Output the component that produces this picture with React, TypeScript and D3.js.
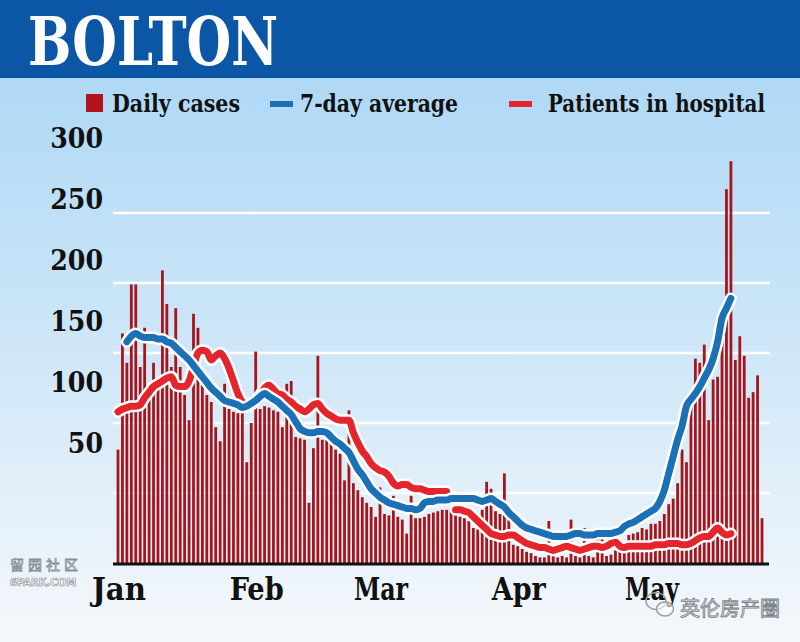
import { useRef, useEffect } from 'react'
import * as d3 from 'd3'

// Daily cases from 1 Jan 2021, one value per day
const dailyCases = [
  81, 164, 143, 199, 199, 140, 168, 125, 143, 124, 209, 185, 140, 182, 140, 120, 102, 178, 168, 128,
  120, 115, 97, 87, 128, 110, 108, 107, 110, 72, 100, 151, 110, 112, 111, 109, 108, 97, 128, 130,
  90, 89, 88, 43, 82, 148, 88, 88, 85, 81, 78, 59, 109, 57, 52, 47, 43, 40, 33, 54,
  35, 34, 48, 33, 31, 21, 48, 32, 32, 33, 35, 36, 37, 38, 38, 39, 37, 33, 32, 30,
  25, 24, 38, 58, 53, 37, 35, 64, 36, 13, 12, 10, 8, 7, 5, 4, 4, 30, 5, 4,
  5, 4, 31, 5, 4, 25, 5, 4, 22, 22, 5, 6, 9, 10, 13, 20, 21, 22, 25, 24,
  28, 28, 30, 35, 42, 46, 57, 81, 72, 118, 146, 143, 156, 102, 131, 133, 180, 267, 287, 145,
  162, 148, 118, 122, 134, 32,
]

// 7-day average (null where not drawn)
const sevenDayAvg = [
  null, null, 158, 162, 164, 162, 161, 161, 161, 160, 160, 158, 157, 154, 151, 148, 145, 141, 137, 133,
  129, 125, 122, 119, 116, 115, 114, 113, 111, 112, 114, 116, 119, 121, 119, 117, 115, 112, 109, 106,
  101, 96, 94, 93, 93, 94, 94, 93, 90, 87, 85, 82, 79, 73, 67, 63, 58, 53, 50, 47,
  45, 43, 42, 41, 40, 39, 39, 38, 39, 43, 44, 44, 45, 45, 45, 46, 46, 46, 46, 46,
  46, 45, 44, 45, 46, 44, 42, 40, 36, 33, 30, 27, 25, 24, 23, 22, 21, 20, 19, 19,
  19, 19, 20, 21, 21, 20, 20, 20, 21, 21, 21, 21, 22, 23, 26, 28, 29, 31, 33, 35,
  37, 39, 44, 52, 64, 76, 88, 98, 112, 117, 121, 126, 132, 138, 146, 158, 175, 182, 189,
]

// Patients in hospital (gap where the series breaks in March)
const hospital = [
  108, 110, 111, 112, 112, 113, 118, 122, 126, 128, 130, 132, 133, 127, 126, 126, 130, 140, 150, 152,
  151, 145, 148, 150, 146, 139, 130, 121, 115, 112, 113, 116, 120, 125, 127, 124, 121, 120, 117, 115,
  112, 110, 108, 110, 113, 114, 110, 107, 105, 103, 102, 102, 102, 93, 86, 80, 76, 71, 68, 66,
  65, 62, 57, 55, 56, 56, 54, 53, 53, 52, 51, 51, 51, 51, 51, null, 38, 38, 37, 36,
  33, 30, 27, 24, 21, 20, 19, 19, 20, 20, 18, 16, 14, 13, 12, 11, 11, 10, 9, 10,
  11, 12, 11, 10, 9, 10, 11, 12, 12, 11, 12, 14, 15, 12, 11, 12, 12, 12, 12, 12,
  12, 13, 13, 13, 14, 14, 14, 13, 13, 14, 16, 18, 19, 19, 22, 25, 22, 20, 21,
]

const yTicks = [50, 100, 150, 200, 250, 300]
const gridValues = [50, 100, 150, 200, 250]
const monthLabels = ['Jan', 'Feb', 'Mar', 'Apr', 'May']
const legendItems = [
  { label: 'Daily cases', kind: 'square', color: '#b0141c' },
  { label: '7-day average', kind: 'line', color: '#1c70b6' },
  { label: 'Patients in hospital', kind: 'line', color: '#e4252c' },
]

const START = new Date(2021, 0, 1)
const SLAB = '"DejaVu Serif Condensed", "DejaVu Serif", serif'

export default function App() {
  const svgRef = useRef<SVGSVGElement>(null)

  useEffect(() => {
    document.body.style.margin = '0'
    const width = 800
    const height = 642
    const svg = d3.select(svgRef.current)
    svg.selectAll('*').remove()
    svg.attr('width', width).attr('height', height)

    // Scales
    const x = d3.scaleLinear().domain([0, dailyCases.length - 1]).range([118, 762])
    const y = d3.scaleLinear().domain([0, 300]).range([563, 143])
    // the printed tick labels sit on their own spacing in the original graphic
    const labelY = d3.scaleLinear().domain([50, 300]).range([442, 137])

    // Background
    const defs = svg.append('defs')
    const bg = defs.append('linearGradient')
      .attr('id', 'sky').attr('x1', 0).attr('y1', 0).attr('x2', 0).attr('y2', 1)
    bg.append('stop').attr('offset', '0%').attr('stop-color', '#a6d4f5')
    bg.append('stop').attr('offset', '55%').attr('stop-color', '#cfe7f8')
    bg.append('stop').attr('offset', '100%').attr('stop-color', '#f5f8fb')
    svg.append('rect').attr('width', width).attr('height', height).attr('fill', 'url(#sky)')

    // Title band
    svg.append('rect').attr('width', width).attr('height', 78).attr('fill', '#0b56a5')
    svg.append('text')
      .attr('x', 28).attr('y', 65)
      .attr('font-family', SLAB).attr('font-weight', 'bold').attr('font-size', 68)
      .attr('fill', '#fff')
      .attr('textLength', 250).attr('lengthAdjust', 'spacingAndGlyphs')
      .text('BOLTON')

    // Legend
    const legendX = [86, 270, 509]
    const legendTextX = [112, 300, 548]
    const legendLen = [128, 158, 217]
    legendItems.forEach((item, i) => {
      if (item.kind === 'square') {
        svg.append('rect').attr('x', legendX[i]).attr('y', 94).attr('width', 17).attr('height', 18)
          .attr('fill', item.color)
      } else {
        svg.append('line').attr('x1', legendX[i]).attr('x2', legendX[i] + 23)
          .attr('y1', 104).attr('y2', 104)
          .attr('stroke', item.color).attr('stroke-width', 6)
      }
      svg.append('text')
        .attr('x', legendTextX[i]).attr('y', 112)
        .attr('font-family', SLAB).attr('font-weight', 'bold').attr('font-size', 25)
        .attr('fill', '#111')
        .attr('textLength', legendLen[i]).attr('lengthAdjust', 'spacingAndGlyphs')
        .text(item.label)
    })

    // Grid lines
    svg.append('g')
      .selectAll('line')
      .data(gridValues)
      .join('line')
      .attr('x1', 113).attr('x2', 770)
      .attr('y1', d => y(d)).attr('y2', d => y(d))
      .attr('stroke', '#fff').attr('stroke-width', 2.5)

    // Y labels
    svg.append('g')
      .selectAll('text')
      .data(yTicks)
      .join('text')
      .attr('x', 103).attr('y', d => labelY(d) + 11)
      .attr('text-anchor', 'end')
      .attr('font-family', SLAB).attr('font-weight', 'bold').attr('font-size', 28)
      .attr('fill', '#111')
      .attr('textLength', d => String(d).length * 17.6).attr('lengthAdjust', 'spacingAndGlyphs')
      .text(d => d)

    // Bars
    svg.append('g')
      .selectAll('rect')
      .data(dailyCases)
      .join('rect')
      .attr('x', (_, i) => x(i) - 1.4)
      .attr('width', 2.8)
      .attr('y', d => y(d))
      .attr('height', d => y(0) - y(d))
      .attr('fill', '#a8141b')

    // Lines with white halos
    const lineGen = d3.line<number | null>()
      .defined(d => d !== null)
      .x((_, i) => x(i))
      .y(d => y(d as number))
      .curve(d3.curveMonotoneX)

    const drawLine = (data: (number | null)[], color: string) => {
      svg.append('path').datum(data)
        .attr('fill', 'none').attr('stroke', '#fff').attr('stroke-width', 12)
        .attr('stroke-linecap', 'round').attr('stroke-linejoin', 'round')
        .attr('d', lineGen)
      svg.append('path').datum(data)
        .attr('fill', 'none').attr('stroke', color).attr('stroke-width', 7)
        .attr('stroke-linecap', 'round').attr('stroke-linejoin', 'round')
        .attr('d', lineGen)
    }
    drawLine(hospital, '#e4252c')
    drawLine(sevenDayAvg, '#1c70b6')

    // X axis line
    svg.append('line')
      .attr('x1', 113).attr('x2', 769).attr('y1', y(0) + 1).attr('y2', y(0) + 1)
      .attr('stroke', '#111').attr('stroke-width', 3)

    // Month labels
    const monthStarts = d3.timeMonth.range(START, new Date(2021, 5, 1))
      .map(d => d3.timeDay.count(START, d))
    svg.append('g')
      .selectAll('text')
      .data(monthLabels)
      .join('text')
      .attr('x', (_, i) => x(monthStarts[i]) + 1)
      .attr('y', 600)
      .attr('text-anchor', 'middle')
      .attr('font-family', SLAB).attr('font-weight', 'bold').attr('font-size', 32)
      .attr('fill', '#111')
      .attr('textLength', d => d.length * 18)
      .attr('lengthAdjust', 'spacingAndGlyphs')
      .text(d => d)

    // Watermarks
    svg.append('text')
      .attr('x', 10).attr('y', 570)
      .attr('font-family', '"Noto Sans CJK SC"').attr('font-size', 14)
      .attr('fill', '#fff').attr('stroke', '#8a8f95').attr('stroke-width', 0.8)
      .attr('letter-spacing', 4)
      .text('留园社区')
    svg.append('text')
      .attr('x', 10).attr('y', 586)
      .attr('font-family', 'DejaVu Sans').attr('font-weight', 'bold').attr('font-size', 10)
      .attr('fill', '#fff').attr('stroke', '#8a8f95').attr('stroke-width', 0.7)
      .text('6PARK.COM')
    const wx = 660
    svg.append('ellipse').attr('cx', wx - 4).attr('cy', 601).attr('rx', 10).attr('ry', 8.5)
      .attr('fill', 'none').attr('stroke', '#9aa0a6').attr('stroke-width', 1.5)
    svg.append('ellipse').attr('cx', wx + 5).attr('cy', 609).attr('rx', 8.5).attr('ry', 7)
      .attr('fill', 'rgba(255,255,255,0.6)').attr('stroke', '#9aa0a6').attr('stroke-width', 1.5)
    svg.append('text')
      .attr('x', 680).attr('y', 616)
      .attr('font-family', '"Noto Sans CJK SC"').attr('font-size', 20)
      .attr('fill', '#fff').attr('stroke', '#7d8389').attr('stroke-width', 0.9)
      .text('英伦房产圈')
  }, [])

  return (
    <div style={{ width: 800, height: 642, overflow: 'hidden' }}>
      <svg ref={svgRef} style={{ display: 'block' }} />
    </div>
  )
}
